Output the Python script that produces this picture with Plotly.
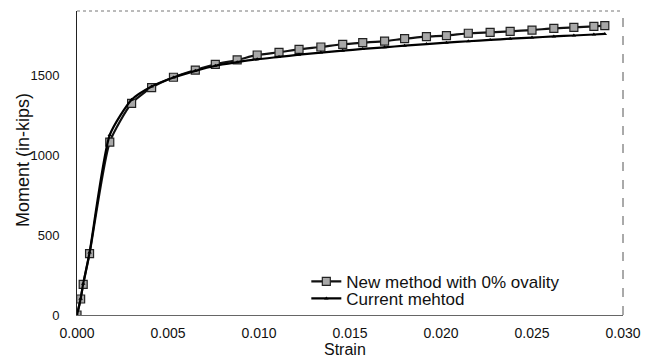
import plotly.graph_objects as go

strain = [0.0, 0.0002, 0.00034, 0.00069, 0.0018, 0.0030, 0.0041, 0.0053, 0.0065, 0.0076,
          0.0088, 0.0099, 0.0111, 0.0122, 0.0134, 0.0146, 0.0157, 0.0169, 0.0180, 0.0192,
          0.0203, 0.0215, 0.0227, 0.0238, 0.0250, 0.0262, 0.0273, 0.0284, 0.0290]
new_method = [0, 100, 192, 383, 1081, 1323, 1421, 1486, 1531, 1567,
              1594, 1625, 1642, 1660, 1675, 1692, 1702, 1712, 1727, 1740,
              1746, 1761, 1767, 1773, 1781, 1792, 1798, 1804, 1808]
current_method = [0, 102, 196, 390, 1125, 1345, 1428, 1484, 1526, 1558,
                  1580, 1598, 1613, 1627, 1640, 1652, 1663, 1673, 1683, 1693,
                  1702, 1711, 1719, 1727, 1734, 1741, 1747, 1753, 1757]
x_ticks = [0.000, 0.005, 0.010, 0.015, 0.020, 0.025, 0.030]
x_tick_labels = ["0.000", "0.005", "0.010", "0.015", "0.020", "0.025", "0.030"]
y_ticks = [0, 500, 1000, 1500]
x_title = "Strain"
y_title = "Moment (in-kips)"

fig = go.Figure()
fig.add_trace(go.Scatter(
    x=strain, y=new_method, name="New method with 0% ovality", legend="legend",
    mode="lines+markers", line=dict(color="#111111", width=2.2, shape="spline", smoothing=0.6),
    marker=dict(symbol="square", size=8, color="#a8a8a8", line=dict(color="#222222", width=1.2)),
))
fig.add_trace(go.Scatter(
    x=strain, y=current_method, name="Current mehtod", legend="legend2",
    mode="lines+markers", line=dict(color="#000000", width=2.2, shape="spline", smoothing=0.6),
    marker=dict(symbol="triangle-up", size=4, color="#000000"),
))

leg_common = dict(xanchor="left", yanchor="middle", bgcolor="rgba(0,0,0,0)",
                  font=dict(size=17), itemwidth=30)

fig.update_layout(
    width=649, height=358,
    margin=dict(l=77, r=26, t=11, b=43),
    paper_bgcolor="white", plot_bgcolor="white",
    font=dict(family="Liberation Sans, Arial, sans-serif", color="#111111"),
    showlegend=True,
    legend=dict(x=0.42, y=0.109, **leg_common),
    legend2=dict(x=0.42, y=0.053, **leg_common),
    xaxis=dict(range=[0, 0.030], tickvals=x_ticks, ticktext=x_tick_labels,
               showgrid=False, zeroline=False, showline=True, linecolor="#666666",
               linewidth=1, ticks="", tickfont=dict(size=14), ticklabelstandoff=5,
               automargin=False),
    yaxis=dict(range=[0, 1900], tickvals=y_ticks,
               showgrid=False, zeroline=False, showline=True, linecolor="#222222",
               linewidth=1, ticks="", tickfont=dict(size=13), ticklabelstandoff=14,
               automargin=False),
    annotations=[
        dict(text=x_title, xref="paper", yref="paper", x=0.49, y=-0.115,
             xanchor="center", yanchor="middle", showarrow=False, font=dict(size=16)),
        dict(text=y_title, xref="paper", yref="paper", x=-0.099, y=0.51,
             xanchor="center", yanchor="middle", showarrow=False, textangle=-90,
             font=dict(size=18)),
    ],
    shapes=[
        dict(type="line", xref="paper", yref="paper", x0=0, x1=1, y0=1, y1=1,
             line=dict(color="#777777", width=1, dash="dot")),
        dict(type="line", xref="paper", yref="paper", x0=1, x1=1, y0=0, y1=1,
             line=dict(color="#555555", width=1, dash="dash")),
    ],
)

fig.write_html("out.html")
